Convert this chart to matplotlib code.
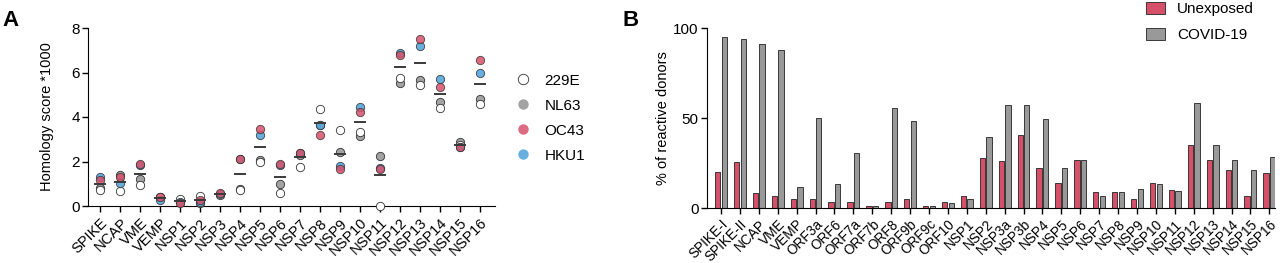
import matplotlib
matplotlib.use("Agg")
import matplotlib.pyplot as plt
import numpy as np
from matplotlib.lines import Line2D

plt.rcParams['font.family'] = ['Liberation Sans', 'DejaVu Sans']

# ---------------- Panel A data ----------------
cats_a = ["SPIKE", "NCAP", "VME", "VEMP", "NSP1", "NSP2", "NSP3", "NSP4", "NSP5",
          "NSP6", "NSP7", "NSP8", "NSP9", "NSP10", "NSP11", "NSP12", "NSP13",
          "NSP14", "NSP15", "NSP16"]
v229E = [0.70, 0.66, 0.93, 0.40, 0.30, 0.46, 0.50, 0.70, 1.99, 0.58, 1.75, 4.36, 3.41, 3.33, 0.00, 5.75, 5.43, 4.39, 2.75, 4.59]
vNL63 = [0.79, 1.38, 1.21, 0.40, 0.20, 0.15, 0.55, 0.75, 2.05, 1.00, 2.30, 3.66, 2.41, 3.15, 2.26, 5.55, 5.67, 4.66, 2.86, 4.83]
vOC43 = [1.17, 1.29, 1.87, 0.40, 0.15, 0.28, 0.60, 2.12, 3.44, 1.87, 2.38, 3.20, 1.67, 4.23, 1.67, 6.79, 7.49, 5.37, 2.63, 6.58]
vHKU1 = [1.30, 1.03, 1.83, 0.28, 0.18, 0.19, 0.55, 2.10, 3.18, 1.83, 2.37, 3.66, 1.81, 4.47, 1.71, 6.86, 7.20, 5.71, 2.65, 5.99]
series_a = ["229E", "NL63", "OC43", "HKU1"]

# ---------------- Panel B data ----------------
cats_b = ["SPIKE-I", "SPIKE-II", "NCAP", "VME", "VEMP", "ORF3a", "ORF6", "ORF7a", "ORF7b",
          "ORF8", "ORF9b", "ORF9c", "ORF10", "NSP1", "NSP2", "NSP3a", "NSP3b", "NSP4",
          "NSP5", "NSP6", "NSP7", "NSP8", "NSP9", "NSP10", "NSP11", "NSP12", "NSP13",
          "NSP14", "NSP15", "NSP16"]
unexposed = [20, 25.3, 8.3, 6.4, 5, 5, 3.5, 3.5, 1.3, 3.3, 5, 1.3, 3.3, 6.8, 27.7, 26, 40.8,
             22.5, 14, 26.6, 8.7, 8.7, 5.2, 13.8, 10.2, 35, 26.6, 20.9, 6.8, 19.4]
covid = [95, 93.7, 91, 87.8, 11.8, 50, 13.3, 30.7, 1.3, 55.6, 48.2, 1.3, 2.8, 5.2, 39.7, 57,
         57, 49.7, 22.2, 26.6, 6.5, 9, 10.5, 13.5, 9.2, 58.4, 35, 26.6, 21, 28.3]

W, H = 1280, 263
fig = plt.figure(figsize=(W / 100, H / 100), dpi=100)

def ax_rect(l, t, r, b):
    return [l / W, 1 - b / H, (r - l) / W, (b - t) / H]

RED = "#d6506a"
BLUE = "#55a7dc"
GRAY = "#a3a3a3"
BAR_GRAY = "#999999"
EDGE = "#333333"

# ---------------- Panel A ----------------
axA = fig.add_axes(ax_rect(88, 28, 495, 206))
x = np.arange(len(cats_a))
style = {"229E": ("white", 1.0), "NL63": (GRAY, 1.0), "OC43": (RED, 0.85), "HKU1": (BLUE, 0.9)}
vals = {"229E": v229E, "NL63": vNL63, "OC43": vOC43, "HKU1": vHKU1}
for name in ["NL63", "229E", "HKU1", "OC43"]:
    c, a = style[name]
    axA.scatter(x, vals[name], s=36, facecolor=c, edgecolor=EDGE, linewidth=0.6,
                alpha=a, zorder=3, clip_on=False)
means = np.mean(np.array([vals[n] for n in series_a]), axis=0)
axA.hlines(means, x - 0.3, x + 0.3, color="#3a3a3a", linewidth=1.4, zorder=4)
axA.set_xlim(-0.62, len(cats_a) - 1 + 0.76)
axA.set_ylim(0, 8)
axA.set_yticks([0, 2, 4, 6, 8])
axA.set_xticks(x)
axA.set_xticklabels(cats_a, rotation=45, ha="right", rotation_mode="anchor")
axA.tick_params(axis="y", labelsize=11, length=4, width=1, pad=2)
axA.tick_params(axis="x", labelsize=10.5, length=4, width=1, pad=3)
for s in ["top", "right"]:
    axA.spines[s].set_visible(False)
axA.set_ylabel("Homology score *1000", fontsize=10.5, labelpad=12)
handles = [Line2D([], [], linestyle="none", marker="o", markersize=7.5,
                  markerfacecolor=style[n][0], markeredgecolor=EDGE if n == "229E" else "none",
                  markeredgewidth=0.6, alpha=style[n][1]) for n in series_a]
axA.legend(handles, series_a, loc="upper left", bbox_to_anchor=(494 / W, 1 - 60 / H),
           bbox_transform=fig.transFigure, frameon=False, fontsize=11,
           handletextpad=0.4, labelspacing=0.72)
fig.text(2 / W, 1 - 10 / H, "A", fontsize=16, fontweight="bold", va="top", ha="left")

# ---------------- Panel B ----------------
axB = fig.add_axes(ax_rect(707, 28, 1275, 208))
xb = np.arange(len(cats_b))
bw = 0.28
axB.bar(xb - 0.175, unexposed, width=bw, color=RED, edgecolor="#222222", linewidth=0.6, label="Unexposed")
axB.bar(xb + 0.175, covid, width=bw, color=BAR_GRAY, edgecolor="#222222", linewidth=0.6, label="COVID-19")
axB.set_xlim(-0.74, len(cats_b) - 1 + 0.3)
axB.set_ylim(0, 100)
axB.set_yticks([0, 50, 100])
axB.set_xticks(xb)
axB.set_xticklabels(cats_b, rotation=45, ha="right", rotation_mode="anchor")
axB.tick_params(axis="y", labelsize=11, length=4, width=1, pad=2)
axB.tick_params(axis="x", labelsize=9.8, length=4, width=1, pad=2.5)
for s in ["top", "right"]:
    axB.spines[s].set_visible(False)
axB.set_ylabel("% of reactive donors", fontsize=10.5, labelpad=2)
axB.legend(loc="upper left", bbox_to_anchor=(1132 / W, 1 + 12 / H), bbox_transform=fig.transFigure,
           frameon=False, fontsize=11, handlelength=1.25, handleheight=0.85,
           handletextpad=0.8, labelspacing=0.75)
fig.text(623 / W, 1 - 10 / H, "B", fontsize=16, fontweight="bold", va="top", ha="left")

fig.savefig("out.png", dpi=100)
